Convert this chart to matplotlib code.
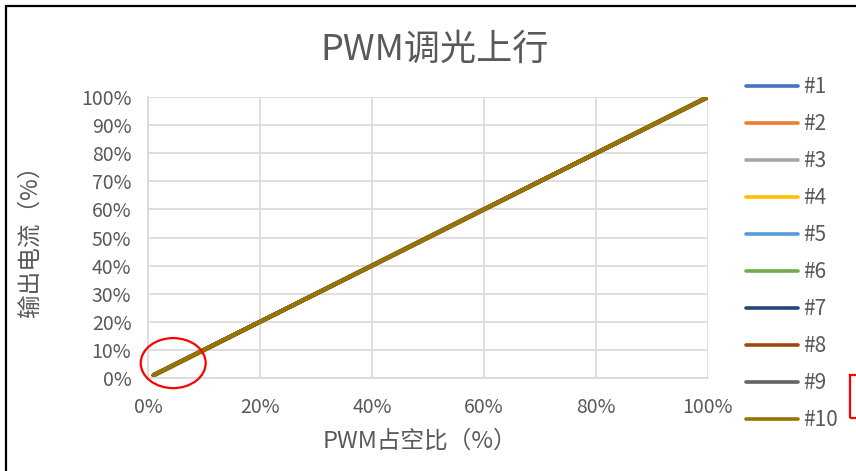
import matplotlib
matplotlib.use("Agg")
import matplotlib.pyplot as plt
from matplotlib.patches import Ellipse, Rectangle

plt.rcParams['font.family'] = ['Noto Sans CJK SC', 'DejaVu Sans']

# ---------------------------------- data ----------------------------------
duty = [1, 10, 20, 30, 40, 50, 60, 70, 80, 90, 100]          # PWM占空比 (%)
s1 = [1.0, 10.0, 20.0, 30.0, 40.0, 50.0, 60.0, 70.0, 80.0, 90.0, 100.0]
s2 = [1.0, 10.0, 20.0, 30.0, 40.0, 50.0, 60.0, 70.0, 80.0, 90.0, 100.0]
s3 = [1.0, 10.0, 20.0, 30.0, 40.0, 50.0, 60.0, 70.0, 80.0, 90.0, 100.0]
s4 = [1.0, 10.0, 20.0, 30.0, 40.0, 50.0, 60.0, 70.0, 80.0, 90.0, 100.0]
s5 = [1.0, 10.0, 20.0, 30.0, 40.0, 50.0, 60.0, 70.0, 80.0, 90.0, 100.0]
s6 = [1.0, 10.0, 20.0, 30.0, 40.0, 50.0, 60.0, 70.0, 80.0, 90.0, 100.0]
s7 = [1.0, 10.0, 20.0, 30.0, 40.0, 50.0, 60.0, 70.0, 80.0, 90.0, 100.0]
s8 = [1.0, 10.0, 20.0, 30.0, 40.0, 50.0, 60.0, 70.0, 80.0, 90.0, 100.0]
s9 = [1.0, 10.0, 20.0, 30.0, 40.0, 50.0, 60.0, 70.0, 80.0, 90.0, 100.0]
s10 = [1.0, 10.0, 20.0, 30.0, 40.0, 50.0, 60.0, 70.0, 80.0, 90.0, 100.0]
series = [s1, s2, s3, s4, s5, s6, s7, s8, s9, s10]
labels = ["#1", "#2", "#3", "#4", "#5", "#6", "#7", "#8", "#9", "#10"]
colors = ["#4472C4", "#ED7D31", "#A5A5A5", "#FFC000", "#5B9BD5",
          "#70AD47", "#264478", "#9E480E", "#636363", "#997300"]
x_ticks = [0, 20, 40, 60, 80, 100]
y_ticks = [0, 10, 20, 30, 40, 50, 60, 70, 80, 90, 100]
# ---------------------------------- data ----------------------------------

W, H = 856, 471
fig = plt.figure(figsize=(W / 100, H / 100), dpi=100)
ax = fig.add_axes([148 / W, 1 - 378 / H, 560 / W, 281 / H])

text_color = "#595959"
grid_color = "#d9d9d9"

for ys, lab, c in zip(series, labels, colors):
    ax.plot(duty, ys, color=c, lw=3.0, label=lab, solid_capstyle='round')

ax.set_xlim(0, 100)
ax.set_ylim(0, 100)
ax.set_xticks(x_ticks)
ax.set_yticks(y_ticks)
ax.set_xticklabels([f"{v}%" for v in x_ticks])
ax.set_yticklabels([f"{v}%" for v in y_ticks])
ax.tick_params(axis='both', length=0, labelsize=14, colors=text_color)
ax.tick_params(axis='y', pad=12)
ax.tick_params(axis='x', pad=14)
ax.grid(True, color=grid_color, lw=1.2)
ax.set_axisbelow(True)
for side in ['top', 'right']:
    ax.spines[side].set_visible(False)
for side in ['left', 'bottom']:
    ax.spines[side].set_color(grid_color)
    ax.spines[side].set_linewidth(1.2)

fig.text(435 / W, 1 - 50 / H, "PWM调光上行", fontsize=26, color=text_color,
         ha='center', va='center')
fig.text(420 / W, 1 - 441 / H, "PWM占空比（%）", fontsize=17, color=text_color,
         ha='center', va='center')
fig.text(30 / W, 1 - 235 / H, "输出电流（%）", fontsize=17, color=text_color,
         ha='center', va='center', rotation=90)

leg = ax.legend(loc='upper left', bbox_to_anchor=(738 / W, 1 - 68 / H),
                bbox_transform=fig.transFigure, frameon=False, fontsize=15,
                handlelength=2.5, handletextpad=0.25, labelspacing=0.72,
                borderaxespad=0)
for t in leg.get_texts():
    t.set_color(text_color)
for h in leg.legend_handles:
    h.set_linewidth(2.6)

# red circle marking the start of the curve
ax.add_patch(Ellipse((4.5, 5.3), 11.6, 17.8, fill=False, ec="red", lw=1.6,
                     clip_on=False, zorder=5))

# outer chart border and red box on the right edge
fig.add_artist(Rectangle((6 / W, -0.05), 1.1, 1 - 6 / H + 0.05, fill=False,
                         ec="black", lw=1.6, transform=fig.transFigure))
fig.add_artist(Rectangle((850 / W, 1 - 418 / H), 20 / W, 43 / H, fill=False,
                         ec="red", lw=1.6, transform=fig.transFigure))

fig.savefig("out.png", dpi=100)
